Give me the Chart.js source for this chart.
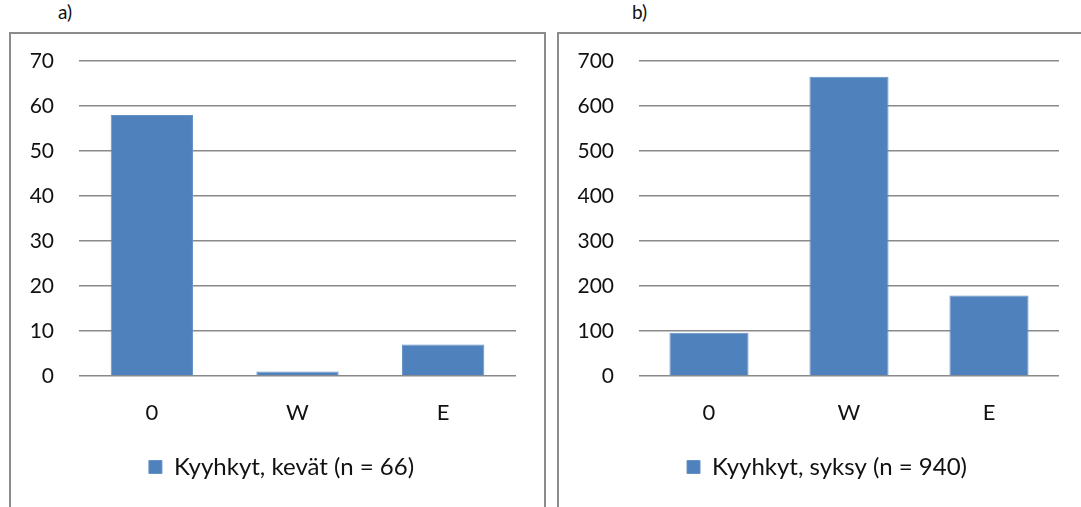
<!DOCTYPE html>
<html>
<head>
<meta charset="utf-8">
<script src="https://cdn.jsdelivr.net/npm/chart.js@4"></script>
<style>
  html, body { margin: 0; padding: 0; background: #fff; overflow: hidden; }
  body { width: 1081px; height: 507px; position: relative; font-family: Lato, "Open Sans", sans-serif; }
  .panel { position: absolute; top: 32px; border: 2px solid #8c8c8c; border-bottom: none; }
  .panel canvas { display: block; }
  .tag { position: absolute; top: 0px; font-size: 19px; color: #111; }
</style>
</head>
<body>
<div class="tag" style="left:58px">a)</div>
<div class="tag" style="left:632px">b)</div>
<div class="panel" id="panel-a" style="left:9px; width:533px; height:480px"><canvas id="chart-a" width="533" height="473"></canvas></div>
<div class="panel" id="panel-b" style="left:557px; width:536px; height:480px"><canvas id="chart-b" width="536" height="473"></canvas></div>
<script>
// ---- data ----
const directions = ["0", "W", "E"];
const springCounts = [58, 1, 7];
const autumnCounts = [96, 665, 179];
const springLabel = "Kyyhkyt, kevät (n = 66)";
const autumnLabel = "Kyyhkyt, syksy (n = 940)";
const springTicks = [0, 10, 20, 30, 40, 50, 60, 70];
const autumnTicks = [0, 100, 200, 300, 400, 500, 600, 700];

const BAR_BLUE = "#4f81bd";
const GRID_GREY = "#8a8a8a";
const FAMILY = "Lato, 'Open Sans', sans-serif";

Chart.defaults.color = "#111";
Chart.defaults.animation = false;

// the legend is centred on the whole canvas; slide it sideways a bit
const nudgeLegend = {
  id: "nudgeLegend",
  afterLayout(chart, args, opts) {
    const lg = chart.legend;
    if (!lg || !opts.dx) return;
    lg.left += opts.dx;
    lg.right += opts.dx;
  },
};

function barChart(canvasId, label, values, ticks, axisWidth, padRight, legendDx) {
  const top = ticks[ticks.length - 1];
  return new Chart(document.getElementById(canvasId), {
    type: "bar",
    data: {
      labels: directions,
      datasets: [{
        label,
        data: values,
        backgroundColor: BAR_BLUE,
        borderColor: "#6591c6",
        borderWidth: 1,
        categoryPercentage: 1,
        barPercentage: 0.565,
      }],
    },
    plugins: [nudgeLegend],
    options: {
      responsive: false,
      devicePixelRatio: 1,
      layout: { padding: { top: 27, left: 0, right: padRight, bottom: 18 } },
      plugins: {
        tooltip: { enabled: false },
        nudgeLegend: { dx: legendDx },
        legend: {
          position: "bottom",
          labels: { font: { family: FAMILY, size: 24 }, boxWidth: 13, boxHeight: 13, padding: 10, color: "#111" },
        },
      },
      scales: {
        x: {
          grid: { display: false },
          border: { display: false },
          ticks: { font: { family: FAMILY, size: 22 }, padding: 16, color: "#111" },
          afterFit: (scale) => { scale.height = 69; },
        },
        y: {
          min: 0,
          max: top,
          afterBuildTicks: (scale) => { scale.ticks = ticks.map((v) => ({ value: v })); },
          // invisible tick marks keep the labels 25px off the plot without
          // inflating the scale's top padding
          grid: { color: GRID_GREY, lineWidth: 1.5, drawTicks: true, tickLength: 25, tickColor: "rgba(0,0,0,0)" },
          border: { display: false },
          ticks: { font: { family: FAMILY, size: 21 }, padding: 0, color: "#111" },
          afterFit: (scale) => { scale.width = axisWidth; },
        },
      },
    },
  });
}

barChart("chart-a", springLabel, springCounts, springTicks, 68, 28, 18);
barChart("chart-b", autumnLabel, autumnCounts, autumnTicks, 80, 36, 18);
</script>
</body>
</html>
